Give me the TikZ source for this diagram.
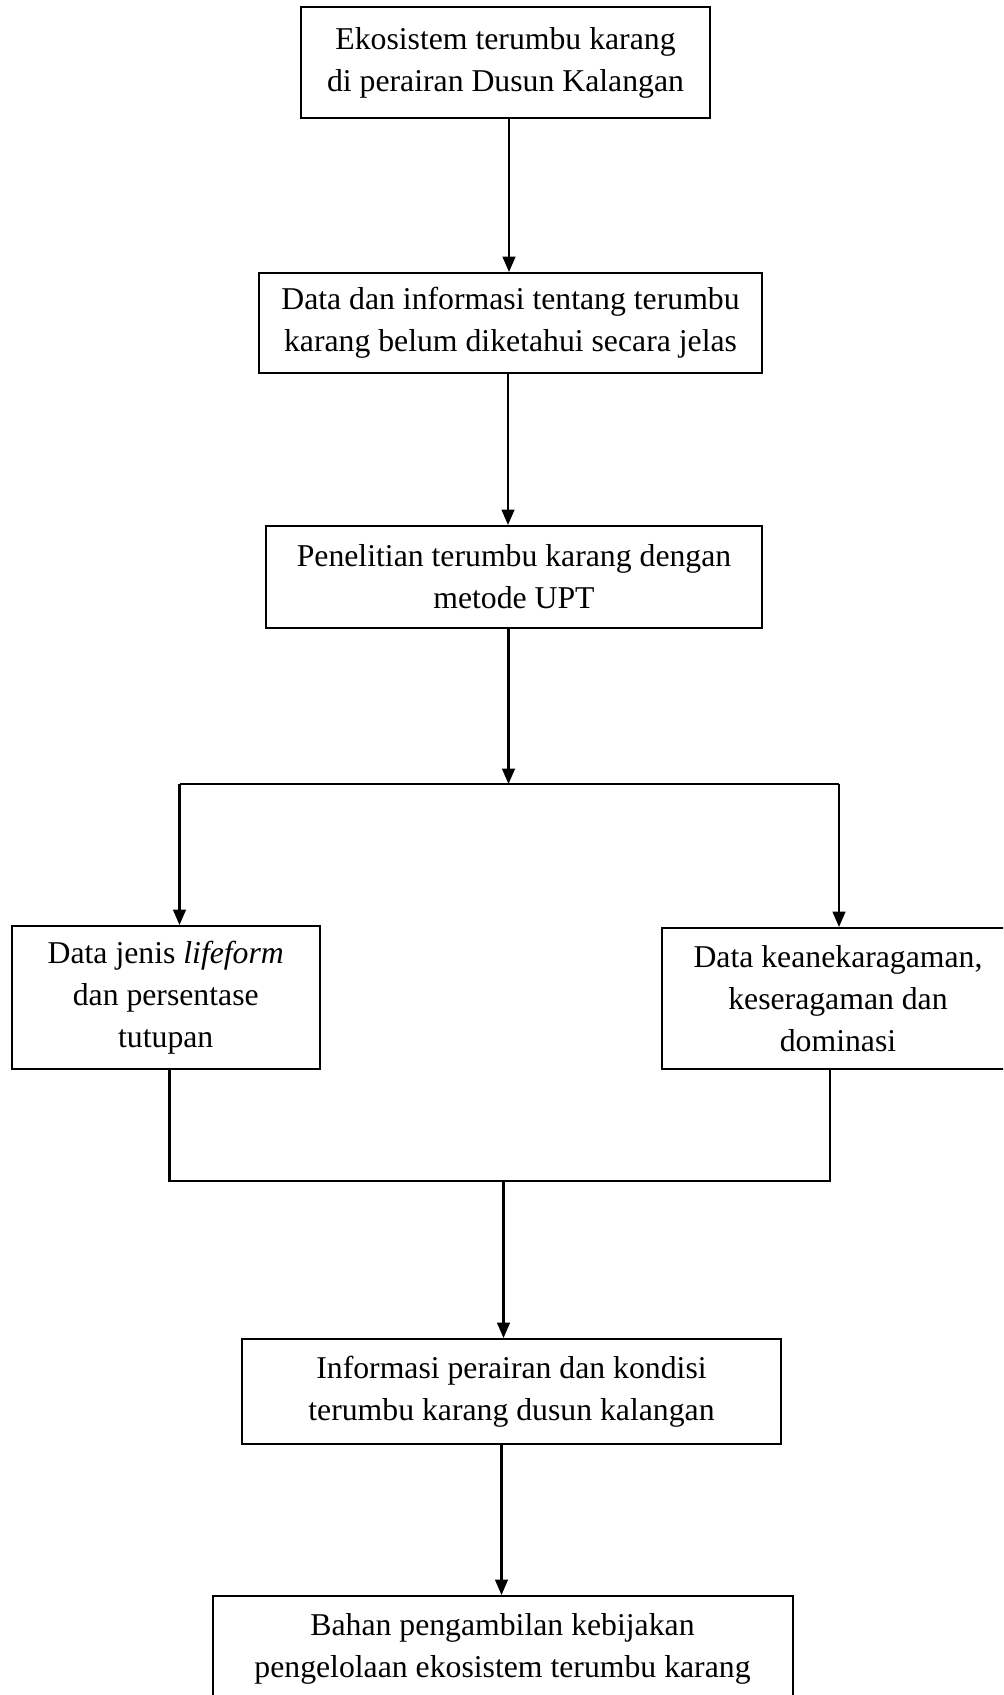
\documentclass[tikz,border=0pt]{standalone}
\usepackage{fontspec}
\setmainfont{Liberation Serif}
\usetikzlibrary{arrows.meta}
\begin{document}
\begin{tikzpicture}[x=0.75pt,y=-0.75pt,
  box/.style={draw, line width=1.5pt, inner sep=0pt, align=center,
    font=\fontsize{23.8}{31.5}\selectfont},
  conn/.style={line width=1.6pt},
  arr/.style={line width=1.6pt, -{Triangle[length=11.5pt,width=9.5pt]}}]
\useasboundingbox (0,0) rectangle (1003,1695);
\clip (0,0) rectangle (1003,1695);

\node[box, minimum width=409*0.75pt, minimum height=111*0.75pt] (b1) at (505.5,62.5)
  {Ekosistem terumbu karang\\di perairan Dusun Kalangan};
\node[box, minimum width=503*0.75pt, minimum height=100*0.75pt] (b2) at (510.5,323)
  {Data dan informasi tentang terumbu\\karang belum diketahui secara jelas};
\node[box, minimum width=496*0.75pt, minimum height=102*0.75pt] (b3) at (514,577)
  {Penelitian terumbu karang dengan\\metode UPT};
\node[box, minimum width=308.5*0.75pt, minimum height=143*0.75pt] (b4) at (165.75,997.5)
  {Data jenis \textit{lifeform}\\dan persentase\\tutupan};
\node[box, minimum width=352*0.75pt, minimum height=141*0.75pt] (b5) at (838,998.5)
  {Data keanekaragaman,\\keseragaman dan\\dominasi};
\node[box, minimum width=539*0.75pt, minimum height=105*0.75pt] (b6) at (511.5,1391.5)
  {Informasi perairan dan kondisi\\terumbu karang dusun kalangan};
\node[box, minimum width=580*0.75pt, minimum height=105*0.75pt] (b7) at (502.5,1648.5)
  {Bahan pengambilan kebijakan\\pengelolaan ekosistem terumbu karang};

\coordinate (s1) at (509,118);
\coordinate (s2) at (508,373);
\coordinate (s3) at (508.5,628);
\coordinate (br) at (508.5,784);
\coordinate (brL) at (179.5,784);
\coordinate (brR) at (839,784);
\coordinate (mL) at (169.5,1181);
\coordinate (mR) at (830,1181);
\coordinate (mM) at (503.5,1181);
\coordinate (s6) at (501.5,1444);

\draw[arr] (s1) -- (s1 |- b2.north);
\draw[arr] (s2) -- (s2 |- b3.north);
\draw[arr] (s3) -- (br);
\draw[conn] (brL) -- (brR);
\draw[arr] (brL) -- (brL |- b4.north);
\draw[arr] (brR) -- (brR |- b5.north);
\draw[conn] (mL |- b4.south) -- (mL) -- (mR) -- (mR |- b5.south);
\draw[arr] (mM) -- (mM |- b6.north);
\draw[arr] (s6) -- (s6 |- b7.north);
\end{tikzpicture}
\end{document}
